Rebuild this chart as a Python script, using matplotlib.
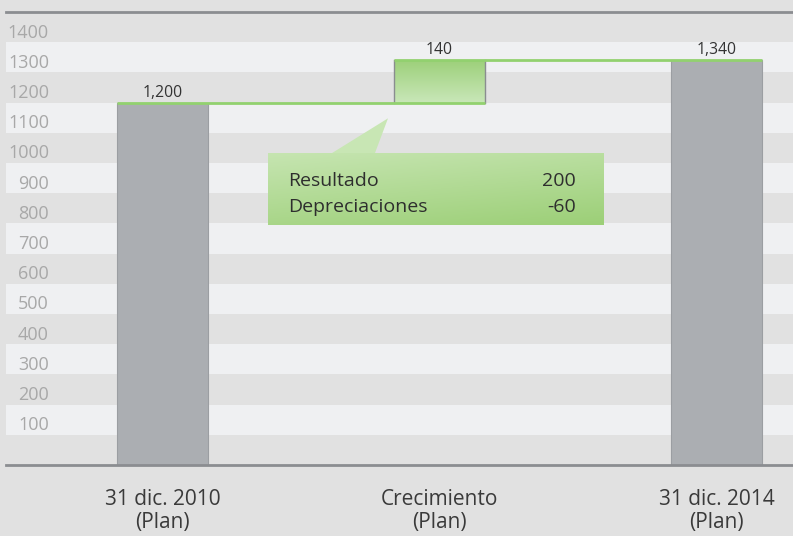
import numpy as np
import matplotlib
matplotlib.use('Agg')
import matplotlib.pyplot as plt
from matplotlib.patches import Polygon, Rectangle
from matplotlib import rcParams

rcParams['font.family'] = ['Open Sans', 'DejaVu Sans']

# ---- data ----
categories = ['31 dic. 2010\n(Plan)', 'Crecimiento\n(Plan)', '31 dic. 2014\n(Plan)']
start_value = 1200
growth = 140
end_value = 1340
value_labels = ['1,200', '140', '1,340']
breakdown_names = ['Resultado', 'Depreciaciones']
breakdown_values = ['200', '-60']
y_ticks = np.arange(100, 1500, 100)

bg = '#e1e1e1'
stripe = '#eff0f2'
bar_grey = '#abaeb2'
line_green = '#92d16f'

fig = plt.figure(figsize=(7.93, 5.36), dpi=100, facecolor=bg)
ax = fig.add_axes([6/793, 1 - 465/536, 787/793, 453/536])
ax.set_facecolor(bg)

x = np.arange(len(categories))
width = 0.33
ymax = 1500

# stripes
for v in y_ticks[::2]:
    ax.axhspan(v, v + 100, color=stripe, lw=0, zorder=0)

# tick labels inside the plot
for v in y_ticks:
    ax.text(43/787, v + 15, str(v), transform=ax.get_yaxis_transform(),
            ha='right', va='baseline', fontsize=13, color='#a8a8a8')

# grey bars
ax.bar(x[0], start_value, width, color=bar_grey, edgecolor='#9b9ea2', lw=0.8, zorder=2)
ax.bar(x[2], end_value, width, color=bar_grey, edgecolor='#9b9ea2', lw=0.8, zorder=2)

# green gradient bar
def gradient_rect(ax, x0, x1, y0, y1, c_top, c_bot, zorder=3, diag=False):
    n = 256
    t = np.linspace(0, 1, n)
    if diag:
        tt = (t[:, None] * 0.7 + t[None, :] * 0.3)
    else:
        tt = np.repeat(t[:, None], 2, axis=1)
    ct = np.array(matplotlib.colors.to_rgb(c_top))
    cb = np.array(matplotlib.colors.to_rgb(c_bot))
    img = ct[None, None, :] * (1 - tt[..., None]) + cb[None, None, :] * tt[..., None]
    im = ax.imshow(img, extent=(x0, x1, y0, y1), origin='upper', aspect='auto',
                   zorder=zorder, interpolation='bilinear')
    return im

gx0, gx1 = x[1] - width/2, x[1] + width/2
gradient_rect(ax, gx0, gx1, start_value, start_value + growth, '#9dd07a', '#c9e7b9')
ax.plot([gx0, gx0], [start_value, start_value + growth], color='#8a8d90', lw=1, zorder=4)
ax.plot([gx1, gx1], [start_value, start_value + growth], color='#8a8d90', lw=1, zorder=4)

# connector lines
ax.plot([x[0] - width/2, gx1], [start_value, start_value], color=line_green, lw=2, zorder=5,
        solid_capstyle='butt')
ax.plot([gx0, x[2] + width/2], [end_value, end_value], color=line_green, lw=2, zorder=5,
        solid_capstyle='butt')

# value labels
for xi, top, lab in zip(x, [start_value, start_value + growth, end_value], value_labels):
    ax.text(xi, top + 20, lab, ha='center', va='baseline', fontsize=11.3, color='#333333', zorder=6)

# callout box
bx0, bx1 = x[0] + 0.382, x[0] + 1.592
by0, by1 = 795, 1033
tip = (x[0] + 0.814, 1148)
im = gradient_rect(ax, bx0, bx1, by0, by1 + 0, '#c6e5b1', '#9ccf77', zorder=6, diag=True)
clip = Rectangle((bx0, by0), bx1 - bx0, by1 - by0, transform=ax.transData)
im.set_clip_path(clip)
tri = Polygon([(x[0] + 0.612, by1), (x[0] + 0.767, by1), tip], closed=True,
              facecolor='#c8e6b4', edgecolor='none', zorder=6)
ax.add_patch(tri)
for i, (nm, val) in enumerate(zip(breakdown_names, breakdown_values)):
    yb = 924 - i * 86
    ax.text(bx0 + 0.072, yb, nm, ha='left', va='baseline', fontsize=14, color='#2e2e2e', zorder=7)
    ax.text(bx1 - 0.1, yb, val, ha='right', va='baseline', fontsize=14, color='#2e2e2e', zorder=7)

ax.set_xlim(-0.565, 2.276)
ax.set_ylim(0, ymax)
ax.set_yticks([])
ax.set_xticks(x)
ax.set_xticklabels(categories, fontsize=15, color='#3a3a3a', linespacing=1.12)
ax.tick_params(axis='x', length=0, pad=17)
for s in ['left', 'right']:
    ax.spines[s].set_visible(False)
for s in ['top', 'bottom']:
    ax.spines[s].set_color('#8b8d91')
    ax.spines[s].set_linewidth(2)

fig.savefig('out.png', dpi=100, facecolor=bg)
